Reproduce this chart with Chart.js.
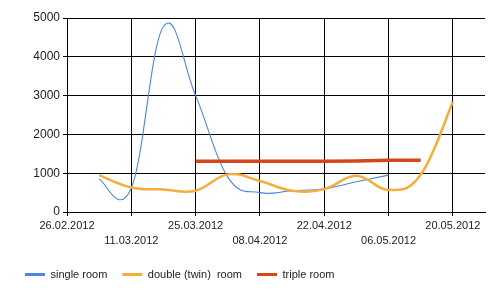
<!DOCTYPE html>
<html>
<head>
<meta charset="utf-8">
<script src="https://cdn.jsdelivr.net/npm/chart.js@4"></script>
<style>
html,body{margin:0;padding:0;background:#fff;}
#wrap{width:500px;height:296px;}
</style>
</head>
<body>
<div id="wrap"><canvas id="c" width="500" height="296"></canvas></div>
<script>
// ---- data ----
const startDate = '26.02.2012';
const tickLabels = ['26.02.2012','11.03.2012','25.03.2012','08.04.2012','22.04.2012','06.05.2012','20.05.2012'];
const singleDates = ['04.03.2012','11.03.2012','18.03.2012','25.03.2012','01.04.2012','08.04.2012','15.04.2012','22.04.2012','29.04.2012','06.05.2012'];
const singleValues = [850, 620, 4780, 3000, 900, 500, 550, 600, 780, 950];
const doubleDates = ['04.03.2012','11.03.2012','18.03.2012','25.03.2012','01.04.2012','08.04.2012','15.04.2012','22.04.2012','29.04.2012','06.05.2012','13.05.2012','20.05.2012'];
const doubleValues = [950, 630, 580, 550, 970, 800, 550, 590, 935, 570, 960, 2840];
const tripleDates = ['25.03.2012','01.04.2012','08.04.2012','15.04.2012','22.04.2012','29.04.2012','06.05.2012','13.05.2012'];
const tripleValues = [1310, 1310, 1310, 1310, 1310, 1315, 1335, 1335];
const seriesNames = ['single room', 'double (twin)  room', 'triple room'];

function toDay(s){
  const [d,m,y] = s.split('.').map(Number);
  const [d0,m0,y0] = startDate.split('.').map(Number);
  return Math.round((Date.UTC(y,m-1,d) - Date.UTC(y0,m0-1,d0)) / 86400000);
}
function pts(dates, vals){ return dates.map((d,i)=>({x:toDay(d), y:vals[i]})); }
const tickDays = tickLabels.map(toDay);

const colors = ['#4a86e0', '#f5ad3c', '#d5461c'];

// cardinal-spline smoothing (chart-control style) applied to Chart.js' own point elements
const cardinalSpline = {
  id: 'cardinalSpline',
  beforeDatasetDraw(chart, args) {
    const meta = args.meta;
    const k = chart.data.datasets[args.index].splineK;
    if (!k || !meta.dataset) return;
    const line = meta.dataset;
    const p = meta.data;
    for (let i = 0; i < p.length; i++) {
      const prev = p[i - 1] || p[i];
      const next = p[i + 1] || p[i];
      const dx = next.x - prev.x, dy = next.y - prev.y;
      p[i].cp1x = p[i].x - k * dx; p[i].cp1y = p[i].y - k * dy;
      p[i].cp2x = p[i].x + k * dx; p[i].cp2y = p[i].y + k * dy;
    }
    line._pointsUpdated = true;
    line._path = undefined;
  }
};

new Chart(document.getElementById('c'), {
  type: 'line',
  plugins: [cardinalSpline],
  data: {
    datasets: [
      {label: seriesNames[0], data: pts(singleDates, singleValues), borderColor: colors[0], borderWidth: 1.1, tension: 0.4, splineK: 0.2, capBezierPoints: false, pointRadius: 0, fill: false, order: 2},
      {label: seriesNames[1], data: pts(doubleDates, doubleValues), borderColor: colors[1], borderWidth: 2.5, tension: 0.4, splineK: 0.2, capBezierPoints: false, pointRadius: 0, fill: false, order: 1},
      {label: seriesNames[2], data: pts(tripleDates, tripleValues), borderColor: colors[2], borderWidth: 3.5, tension: 0, pointRadius: 0, fill: false, order: 0}
    ]
  },
  options: {
    responsive: false,
    animation: false,
    events: [],
    layout: {padding: {left: 10, right: 15, top: 18, bottom: 6}},
    font: {family: 'Arial, "Liberation Sans", sans-serif'},
    scales: {
      x: {
        type: 'linear', min: 0, max: 91,
        afterBuildTicks: axis => { axis.ticks = tickDays.map(v => ({value: v})); },
        afterFit: s => { s.height = 42; },
        ticks: {
          autoSkip: false, maxRotation: 0, minRotation: 0, padding: 2,
          color: '#222',
          font: {size: 11, family: 'Arial, "Liberation Sans", sans-serif', lineHeight: 1.4},
          callback: (v, i) => (i % 2 === 0 ? tickLabels[i] : ['', tickLabels[i]])
        },
        grid: {color: '#000', lineWidth: 1, tickLength: 4, drawTicks: true},
        border: {color: '#000', width: 1}
      },
      y: {
        min: 0, max: 5000,
        afterFit: s => { s.width = 57; },
        ticks: {stepSize: 1000, padding: 3, color: '#222', font: {size: 12, family: 'Arial, "Liberation Sans", sans-serif'}, callback: v => String(v)},
        grid: {color: '#000', lineWidth: 1, tickLength: 4},
        border: {color: '#000', width: 1}
      }
    },
    plugins: {
      tooltip: {enabled: false},
      legend: {
        position: 'bottom', align: 'start',
        labels: {
          usePointStyle: true, pointStyleWidth: 20, padding: 15, color: '#222',
          font: {size: 11, family: 'Arial, "Liberation Sans", sans-serif'},
          generateLabels: chart => chart.data.datasets.map((ds, i) => ({
            text: ds.label, pointStyle: 'line', strokeStyle: ds.borderColor, fillStyle: ds.borderColor,
            lineWidth: 3, datasetIndex: i, hidden: false, fontColor: '#222'
          }))
        }
      }
    }
  }
});
</script>
</body>
</html>
